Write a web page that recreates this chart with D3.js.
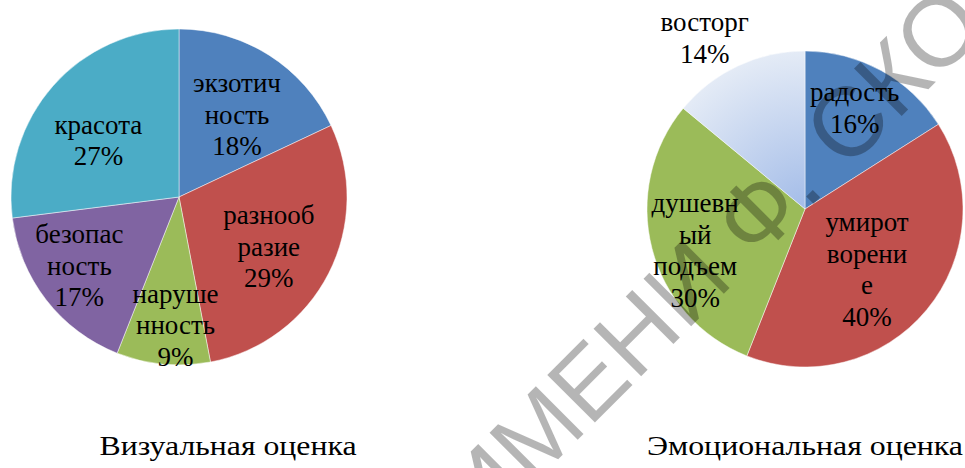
<!DOCTYPE html>
<html>
<head>
<meta charset="utf-8">
<script src="https://cdn.jsdelivr.net/npm/d3@7"></script>
<style>
  body { margin: 0; background: #fff; }
</style>
</head>
<body>
<svg id="chart" width="965" height="468"></svg>
<script>
// Визуальная оценка
const visualCategories = ["экзотичность", "разнообразие", "нарушенность", "безопасность", "красота"];
const visualLines = [["экзотич", "ность"], ["разнооб", "разие"], ["наруше", "нность"], ["безопас", "ность"], ["красота"]];
const visualValues = [18, 29, 9, 17, 27];

// Эмоциональная оценка
const emotionCategories = ["радость", "умиротворение", "душевный подъем", "восторг"];
const emotionLines = [["радость"], ["умирот", "ворени", "е"], ["душевн", "ый", "подъем"], ["восторг"]];
const emotionValues = [16, 40, 30, 14];

const titles = ["Визуальная оценка", "Эмоциональная оценка"];

const serif = "'Liberation Serif', 'Times New Roman', 'DejaVu Serif', serif";

const svg = d3.select("#chart");

// gradient for the "восторг" slice
const defs = svg.append("defs");
const grad = defs.append("radialGradient")
  .attr("id", "lightBlue")
  .attr("gradientUnits", "userSpaceOnUse")
  .attr("cx", 0).attr("cy", 0).attr("r", 158);
grad.append("stop").attr("offset", "0%").attr("stop-color", "#a3bce8");
grad.append("stop").attr("offset", "100%").attr("stop-color", "#e4ebf6");

const charts = [
  {
    cats: visualCategories, lines: visualLines, values: visualValues, title: titles[0],
    cx: 179, cy: 197, r: 168, titleX: 228, titleW: 257,
    colors: ["#4f81bd", "#c0504d", "#9bbb59", "#8064a2", "#4bacc6"],
    nudge: [[4, 3], [0, 4], [6, 28], [-20, 7], [-5, 10]]
  },
  {
    cats: emotionCategories, lines: emotionLines, values: emotionValues, title: titles[1],
    cx: 805, cy: 209, r: 158, titleX: 805, titleW: 316,
    colors: ["#4f81bd", "#c0504d", "#9bbb59", "url(#lightBlue)"],
    nudge: [[4, -18], [-11, 0], [-18, 18], [-60, -85]]
  }
];

const fontSize = 27;
const lineH = 31.5;

charts.forEach((c) => {
  const pie = d3.pie().sort(null).value((d) => d)(c.values);
  const arc = d3.arc().innerRadius(0).outerRadius(c.r);
  const labelArc = d3.arc().innerRadius(c.r * 0.6).outerRadius(c.r * 0.6);

  const g = svg.append("g").attr("transform", `translate(${c.cx},${c.cy})`);

  g.selectAll("path.slice")
    .data(pie)
    .enter()
    .append("path")
    .attr("class", "slice")
    .attr("d", arc)
    .attr("fill", (d, i) => c.colors[i])
    .attr("stroke", "#ffffff")
    .attr("stroke-opacity", 0.6)
    .attr("stroke-width", 0.8);

  g.selectAll("text.label")
    .data(pie)
    .enter()
    .append("text")
    .attr("class", "label")
    .attr("text-anchor", "middle")
    .attr("font-family", serif)
    .attr("font-size", fontSize)
    .attr("fill", "#000")
    .each(function (d, i) {
      const [x, y] = labelArc.centroid(d);
      const rows = c.lines[i].concat([d.value + "%"]);
      const px = x + c.nudge[i][0];
      const top = y + c.nudge[i][1] - ((rows.length - 1) * lineH) / 2 + fontSize * 0.33;
      d3.select(this)
        .selectAll("tspan")
        .data(rows)
        .enter()
        .append("tspan")
        .attr("x", px)
        .attr("y", (t, k) => top + k * lineH)
        .text((t) => t);
    });

  svg.append("text")
    .attr("x", c.titleX)
    .attr("y", 455)
    .attr("text-anchor", "middle")
    .attr("font-family", serif)
    .attr("font-size", 27)
    .attr("textLength", c.titleW)
    .attr("lengthAdjust", "spacingAndGlyphs")
    .attr("fill", "#000")
    .text(c.title);
});

// watermark
const wmSize = 98;
svg.append("g")
  .attr("transform", "translate(457,511) rotate(-45)")
  .append("text")
  .attr("x", 0)
  .attr("y", wmSize * 0.716 / 2)
  .attr("font-family", "'Liberation Sans', Arial, sans-serif")
  .attr("font-size", wmSize)
  .attr("fill", "#000")
  .attr("fill-opacity", 0.29)
  .text("ИМЕНИ Ф. СКОРИНЫ");
</script>
</body>
</html>
